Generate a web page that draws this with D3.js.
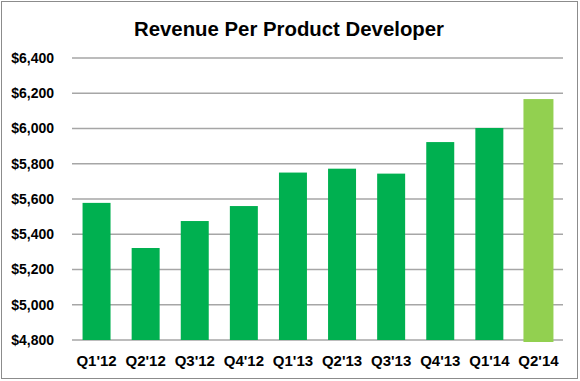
<!DOCTYPE html>
<html>
<head>
<meta charset="utf-8">
<script src="https://cdn.jsdelivr.net/npm/d3@7"></script>
<style>
    body { margin: 0; background: #fff; }
    svg text { font-family: "Liberation Sans", Arial, sans-serif; font-weight: bold; fill: #000; }
    .yaxis text { font-size: 14px; }
    .xaxis text { font-size: 15px; }
</style>
</head>
<body>
<div id="field"></div>
<script>
// data
const quarters = ["Q1'12", "Q2'12", "Q3'12", "Q4'12", "Q1'13", "Q2'13", "Q3'13", "Q4'13", "Q1'14", "Q2'14"];
const revenue = [5578, 5322, 5475, 5560, 5750, 5772, 5744, 5923, 6003, 6167];
const yTicks = [4800, 5000, 5200, 5400, 5600, 5800, 6000, 6200, 6400];

const width = 580;
const height = 381;
const margin = {top: 58, right: 17, bottom: 41, left: 72};

const chart = d3.select("#field")
    .append("svg")
    .attr("width", width)
    .attr("height", height);

// outer frame
chart.append("rect")
    .attr("x", 1.5)
    .attr("y", 1.5)
    .attr("width", width - 4)
    .attr("height", height - 4)
    .attr("fill", "#fff")
    .attr("stroke", "#8c8c8c")
    .attr("stroke-width", 1);

chart.append("text")
    .attr("x", 289)
    .attr("y", 36)
    .attr("text-anchor", "middle")
    .style("font-size", "21px")
    .attr("textLength", 310)
    .attr("lengthAdjust", "spacingAndGlyphs")
    .text("Revenue Per Product Developer");

// scales
const xScale = d3.scaleBand()
    .domain(quarters)
    .range([margin.left, width - margin.right])
    .paddingInner(0.43)
    .paddingOuter(0.215);

const yScale = d3.scaleLinear()
    .domain([4800, 6400])
    .range([height - margin.bottom, margin.top]);

// gridlines
chart.append("g").selectAll("line")
    .data(yTicks)
    .enter().append("line")
    .attr("x1", margin.left)
    .attr("x2", width - margin.right)
    .attr("y1", function(d) { return yScale(d); })
    .attr("y2", function(d) { return yScale(d); })
    .attr("stroke", "#a6a6a6")
    .attr("stroke-width", 1.5);

// y axis labels
const yAxis = d3.axisLeft(yScale)
    .tickValues(yTicks)
    .tickFormat(function(d) { return "$" + d3.format(",")(d); })
    .tickSize(0)
    .tickPadding(18);

const yG = chart.append("g")
    .attr("class", "yaxis")
    .attr("transform", "translate(" + margin.left + ",0)")
    .call(yAxis);
yG.select(".domain").remove();

// bars
chart.append("g").selectAll("rect")
    .data(revenue)
    .enter().append("rect")
    .attr("x", function(d, i) {
        const extra = i === quarters.length - 1 ? 1 : 0;
        return xScale(quarters[i]) - extra;
    })
    .attr("y", function(d) { return yScale(d); })
    .attr("width", function(d, i) {
        return xScale.bandwidth() + (i === quarters.length - 1 ? 2 : 0);
    })
    .attr("height", function(d, i) {
        return yScale(4800) - yScale(d) + (i === quarters.length - 1 ? 2 : 0);
    })
    .attr("fill", function(d, i) { return i === quarters.length - 1 ? "#92d050" : "#00b050"; });

// x axis labels
const xAxis = d3.axisBottom(xScale)
    .tickSize(0)
    .tickPadding(15);

const xG = chart.append("g")
    .attr("class", "xaxis")
    .attr("transform", "translate(0," + (height - margin.bottom) + ")")
    .call(xAxis);
xG.select(".domain").remove();
</script>
</body>
</html>
